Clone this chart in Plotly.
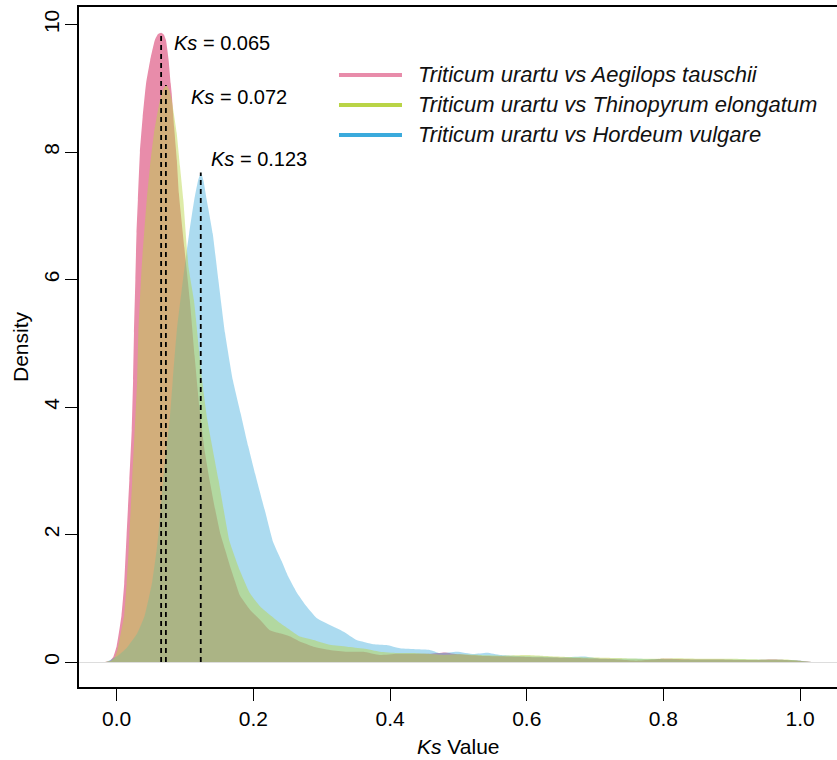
import plotly.graph_objects as go

# ---------------- data ----------------
series_names = [
    "Triticum urartu vs Aegilops tauschii",
    "Triticum urartu vs Thinopyrum elongatum",
    "Triticum urartu vs Hordeum vulgare",
]

tau_x = [-0.017, -0.010, -0.005, 0.000, 0.007, 0.011, 0.0145, 0.0185, 0.022, 0.024,
         0.0253, 0.0273, 0.029, 0.031, 0.034, 0.038, 0.043, 0.049, 0.056, 0.0605,
         0.065, 0.069, 0.072, 0.076, 0.079, 0.0805, 0.084, 0.088, 0.091, 0.099,
         0.107, 0.114, 0.121, 0.129, 0.136, 0.144, 0.152, 0.159, 0.166, 0.173,
         0.180, 0.195, 0.210, 0.224, 0.239, 0.254, 0.268, 0.288, 0.312, 0.337,
         0.361, 0.385, 0.410, 0.434, 0.458, 0.480, 0.500, 0.530, 0.560, 0.600,
         0.640, 0.680, 0.720, 0.760, 0.800, 0.840, 0.880, 0.920, 0.960, 1.000, 1.017]
tau_y = [0.0, 0.02, 0.08, 0.25, 0.73, 1.23, 2.0, 2.85, 3.64, 4.42,
         5.16, 6.0, 6.73, 7.25, 8.0, 8.55, 9.08, 9.44, 9.76, 9.85,
         9.87, 9.84, 9.76, 9.44, 9.08, 8.92, 8.40, 7.87, 7.35, 6.5,
         5.68, 4.8, 4.0, 3.3, 2.85, 2.4, 2.0, 1.75, 1.5, 1.27,
         1.05, 0.82, 0.66, 0.50, 0.45, 0.40, 0.32, 0.24, 0.19, 0.16,
         0.16, 0.11, 0.13, 0.13, 0.13, 0.15, 0.12, 0.10, 0.09, 0.08,
         0.07, 0.06, 0.05, 0.02, 0.05, 0.04, 0.04, 0.03, 0.04, 0.02, 0.0]

elo_x = [-0.017, -0.008, -0.003, 0.001, 0.006, 0.011, 0.0146, 0.0175, 0.0185, 0.0228,
         0.030, 0.0317, 0.0366, 0.044, 0.0488, 0.0546, 0.0634, 0.068, 0.0725, 0.077,
         0.0805, 0.0878, 0.0926, 0.0975, 0.105, 0.113, 0.125, 0.1326, 0.149, 0.158,
         0.165, 0.180, 0.195, 0.210, 0.224, 0.239, 0.254, 0.268, 0.288, 0.312,
         0.337, 0.361, 0.385, 0.410, 0.434, 0.458, 0.480, 0.500, 0.530, 0.560,
         0.600, 0.620, 0.660, 0.700, 0.740, 0.780, 0.820, 0.860, 0.900, 0.940,
         0.980, 1.000, 1.017]
elo_y = [0.0, 0.02, 0.07, 0.19, 0.45, 0.73, 1.23, 1.76, 2.0, 2.855,
         4.42, 5.16, 6.2, 7.25, 7.78, 8.3, 8.82, 8.98, 9.05, 8.97,
         8.82, 8.3, 7.78, 7.25, 6.2, 5.68, 4.42, 3.8, 2.855, 2.3,
         1.9, 1.44, 1.08, 0.87, 0.74, 0.61, 0.50, 0.40, 0.345, 0.27,
         0.24, 0.21, 0.16, 0.14, 0.14, 0.125, 0.11, 0.12, 0.11, 0.10,
         0.11, 0.10, 0.08, 0.07, 0.06, 0.05, 0.06, 0.05, 0.05, 0.04,
         0.04, 0.02, 0.0]

hor_x = [-0.015, -0.005, 0.0, 0.0146, 0.030, 0.041, 0.052, 0.0585, 0.061, 0.068,
         0.073, 0.078, 0.082, 0.088, 0.097, 0.106, 0.1135, 0.119, 0.1234, 0.127,
         0.1317, 0.1405, 0.1487, 0.1585, 0.170, 0.1814, 0.1926, 0.2049, 0.218, 0.229,
         0.2415, 0.251, 0.263, 0.278, 0.293, 0.312, 0.332, 0.351, 0.3755, 0.395,
         0.4146, 0.439, 0.458, 0.473, 0.498, 0.522, 0.542, 0.561, 0.586, 0.620,
         0.649, 0.683, 0.708, 0.750, 0.800, 0.850, 0.900, 0.950, 0.990, 1.017]
hor_y = [0.0, 0.06, 0.085, 0.22, 0.45, 0.73, 1.26, 1.76, 2.0, 2.855,
         3.38, 3.85, 4.42, 5.2, 6.0, 6.72, 7.25, 7.55, 7.68, 7.55,
         7.25, 6.72, 6.0, 5.16, 4.42, 3.9, 3.38, 2.855, 2.33, 1.88,
         1.58, 1.34, 1.1, 0.87, 0.685, 0.58, 0.475, 0.345, 0.28, 0.267,
         0.215, 0.2, 0.19, 0.14, 0.16, 0.125, 0.145, 0.11, 0.095, 0.085,
         0.07, 0.085, 0.05, 0.05, 0.045, 0.04, 0.04, 0.035, 0.03, 0.0]

ks_values = [0.065, 0.072, 0.123]
ks_peaks = [9.87, 9.05, 7.68]
ks_labels = ["0.065", "0.072", "0.123"]

x_ticks = [0.0, 0.2, 0.4, 0.6, 0.8, 1.0]
x_ticklabels = ["0.0", "0.2", "0.4", "0.6", "0.8", "1.0"]
y_ticks = [0, 2, 4, 6, 8, 10]
y_ticklabels = ["0", "2", "4", "6", "8", "10"]

# ---------------- styles ----------------
line_colors = ["rgb(232,140,170)", "rgb(185,212,70)", "rgb(58,170,220)"]
fill_colors = ["rgb(232,140,170)", "rgba(185,212,70,0.47)", "rgba(58,170,220,0.42)"]
FONT = "Liberation Sans, Arial, Helvetica, sans-serif"

fig = go.Figure()
curves = [(tau_x, tau_y, 0), (hor_x, hor_y, 2), (elo_x, elo_y, 1)]  # drawing order
for xs, ys, i in curves:
    fig.add_trace(go.Scatter(
        x=xs, y=ys, mode="lines", fill="tozeroy", line_shape="spline",
        fillcolor=fill_colors[i], line=dict(width=0, color=fill_colors[i], smoothing=0.4),
        name=series_names[i], showlegend=False, hoverinfo="skip"))

for k, p in zip(ks_values, ks_peaks):
    fig.add_trace(go.Scatter(
        x=[k, k], y=[0, p], mode="lines",
        line=dict(color="black", width=1.8, dash="5px,4px"),
        showlegend=False, hoverinfo="skip"))

annotations = []
label_pos = [(0.0814, 9.705), (0.1058, 8.868), (0.1351, 7.89)]
for (lx, ly), lab in zip(label_pos, ks_labels):
    annotations.append(dict(
        x=lx, y=ly, xref="x", yref="y", xanchor="left", yanchor="middle",
        text="<i>Ks</i> = " + lab, showarrow=False,
        font=dict(family=FONT, size=20, color="black")))

# manual legend (paper coords)
shapes = []
leg_y = [0.900, 0.8559, 0.8118]
for i, ly in enumerate(leg_y):
    shapes.append(dict(type="line", xref="paper", yref="paper",
                       x0=0.343, x1=0.4261, y0=ly, y1=ly,
                       line=dict(color=line_colors[i], width=4)))
    annotations.append(dict(
        x=0.4446, y=ly, xref="paper", yref="paper", xanchor="left", yanchor="middle",
        text="<i>" + series_names[i] + "</i>", showarrow=False,
        font=dict(family=FONT, size=22, color="#111111")))

annotations.append(dict(
    x=0.501, y=-0.0882, xref="paper", yref="paper", xanchor="center", yanchor="middle",
    text="<i>Ks</i> Value", showarrow=False, font=dict(family=FONT, size=21, color="black")))
annotations.append(dict(
    x=-0.0778, y=0.5, xref="paper", yref="paper", xanchor="center", yanchor="middle",
    text="Density", textangle=-90, showarrow=False,
    font=dict(family=FONT, size=21, color="black")))

fig.update_layout(
    width=837, height=760,
    margin=dict(l=79, r=0, t=7, b=73, autoexpand=False),
    paper_bgcolor="white", plot_bgcolor="white",
    showlegend=False,
    annotations=annotations, shapes=shapes,
    xaxis=dict(range=[-0.05517, 1.05404], tickvals=x_ticks, ticktext=x_ticklabels,
               automargin=False,
               showgrid=False, zeroline=False, showline=True, mirror=True,
               linecolor="black", linewidth=1.5, ticks="outside", ticklen=12,
               tickwidth=1.3, tickcolor="black", ticklabelstandoff=0,
               tickfont=dict(family=FONT, size=21, color="black")),
    yaxis=dict(range=[-0.392, 10.275], tickvals=y_ticks, ticktext=y_ticklabels,
               automargin=False,
               showgrid=False, zeroline=True, zerolinecolor="#dddddd", zerolinewidth=1,
               showline=True, mirror=False, linecolor="black", linewidth=1.5,
               ticks="outside", ticklen=12, tickwidth=1.3, tickcolor="black",
               tickangle=-90, ticklabelstandoff=-2,
               tickfont=dict(family=FONT, size=21, color="black")),
)

fig.write_html("out.html",
               config={"displayModeBar": False},
               post_script="document.body.style.margin='0';document.body.style.overflow='hidden';")
